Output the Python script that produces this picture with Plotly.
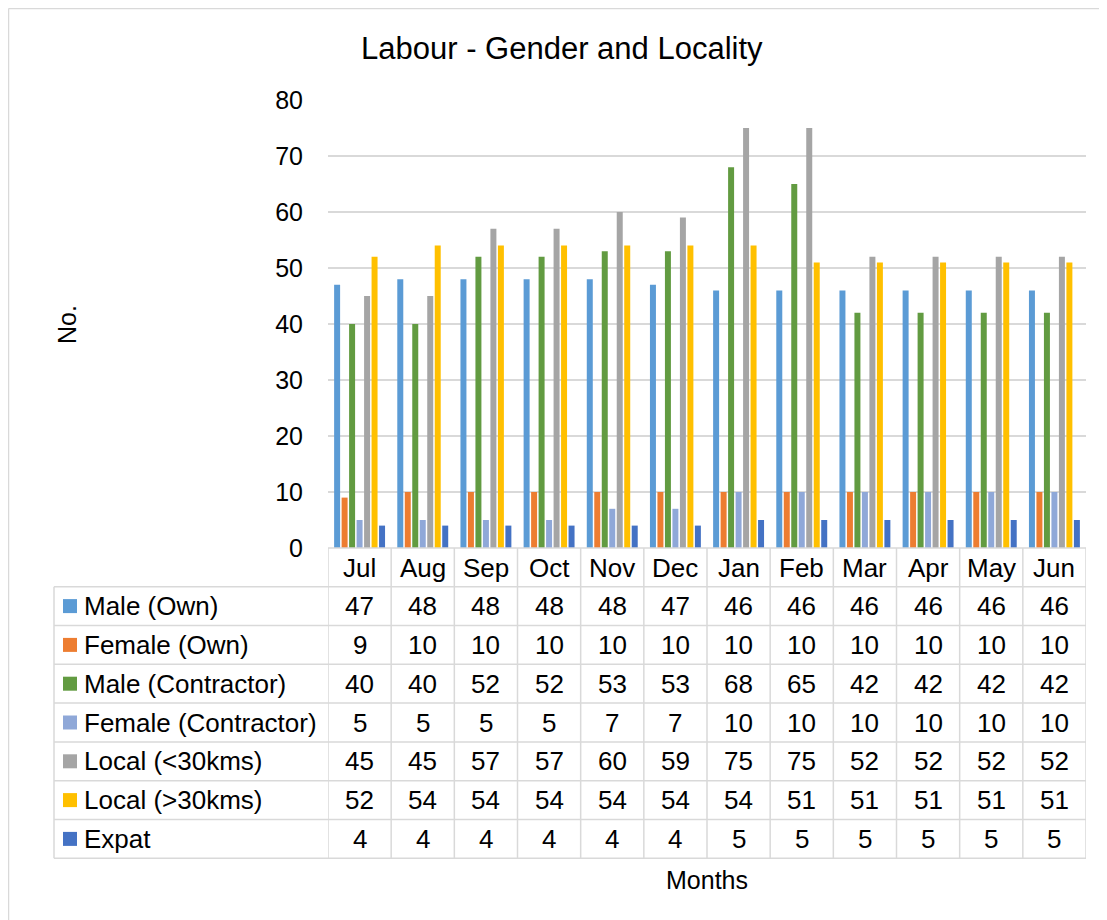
import plotly.graph_objects as go

months = ["Jul", "Aug", "Sep", "Oct", "Nov", "Dec", "Jan", "Feb", "Mar", "Apr", "May", "Jun"]
male_own = [47, 48, 48, 48, 48, 47, 46, 46, 46, 46, 46, 46]
female_own = [9, 10, 10, 10, 10, 10, 10, 10, 10, 10, 10, 10]
male_contractor = [40, 40, 52, 52, 53, 53, 68, 65, 42, 42, 42, 42]
female_contractor = [5, 5, 5, 5, 7, 7, 10, 10, 10, 10, 10, 10]
local_lt30 = [45, 45, 57, 57, 60, 59, 75, 75, 52, 52, 52, 52]
local_gt30 = [52, 54, 54, 54, 54, 54, 54, 51, 51, 51, 51, 51]
expat = [4, 4, 4, 4, 4, 4, 5, 5, 5, 5, 5, 5]

series_names = ["Male (Own)", "Female (Own)", "Male (Contractor)", "Female (Contractor)",
                "Local (<30kms)", "Local (>30kms)", "Expat"]
series_values = [male_own, female_own, male_contractor, female_contractor,
                 local_lt30, local_gt30, expat]
colors = ["#5B9BD5", "#ED7D31", "#629B41", "#8FA8D8", "#A5A5A5", "#FFC000", "#4472C4"]

# page body has an 8px margin, so the figure is drawn 8px smaller and everything is
# expressed in window pixel coordinates below
OFF = 8
W, H = 1107 - OFF, 920 - OFF
L, R, T, B = 328, 1086, 100, 548  # plot area in window coordinates
FONT = "Liberation Sans, Arial, sans-serif"
GRID = "#D9D9D9"
FS = 26


def px(X):
    return (X - L) / (R - L)


def py(Y):
    return (B - Y) / (B - T)


fig = go.Figure()
for name, vals, col in zip(series_names, series_values, colors):
    fig.add_trace(go.Bar(x=list(range(len(months))), y=vals, name=name,
                         marker=dict(color=col, line=dict(width=0))))

shapes = []
annotations = []

row_h = 38.8
header_bottom = 586.7
row_tops = [header_bottom + i * row_h for i in range(len(series_names) + 1)]
tbl_left = 54

shapes.append(dict(type="line", xref="paper", yref="paper", x0=px(L), x1=px(R),
                   y0=py(B), y1=py(B), line=dict(color=GRID, width=1.5)))
for yy in row_tops:
    shapes.append(dict(type="line", xref="paper", yref="paper", x0=px(tbl_left), x1=px(R),
                       y0=py(yy), y1=py(yy), line=dict(color=GRID, width=1.5)))
shapes.append(dict(type="line", xref="paper", yref="paper", x0=px(tbl_left), x1=px(tbl_left),
                   y0=py(row_tops[0]), y1=py(row_tops[-1]), line=dict(color=GRID, width=1.5)))
for k in range(len(months) + 1):
    shapes.append(dict(type="line", xref="x", yref="paper", x0=k - 0.5, x1=k - 0.5,
                       y0=py(B), y1=py(row_tops[-1]), line=dict(color=GRID, width=1.5)))


def txt(x, y, text, xref="paper", size=FS, xanchor="center", angle=0):
    return dict(x=x, y=y, xref=xref, yref="paper", text=text, showarrow=False,
                xanchor=xanchor, yanchor="middle", textangle=angle,
                font=dict(size=size, color="#000000", family=FONT))


for i, m in enumerate(months):
    annotations.append(txt(i, py((B + header_bottom) / 2 + 1), m, xref="x"))

for r, (name, vals, col) in enumerate(zip(series_names, series_values, colors)):
    yc = row_tops[r] + row_h / 2
    shapes.append(dict(type="rect", xref="paper", yref="paper",
                       x0=px(63), x1=px(77), y0=py(yc - 7), y1=py(yc + 7),
                       fillcolor=col, line=dict(width=0)))
    annotations.append(txt(px(82), py(yc), name, xanchor="left"))
    for i, v in enumerate(vals):
        annotations.append(txt(i, py(yc), str(v), xref="x"))

annotations.append(txt(px(561.5), py(49), "Labour - Gender and Locality", size=31))
annotations.append(txt(px(67), py(325), "No.", size=25, angle=-90))
annotations.append(txt(px(707), py(880), "Months", size=25))

# outer frame (top and left edges visible)
shapes.append(dict(type="line", xref="paper", yref="paper", x0=px(8.5), x1=px(1120),
                   y0=py(8.5), y1=py(8.5), line=dict(color="#D9D9D9", width=1.5)))
shapes.append(dict(type="line", xref="paper", yref="paper", x0=px(8.5), x1=px(8.5),
                   y0=py(8.5), y1=py(930), line=dict(color="#D9D9D9", width=1.5)))

fig.update_layout(
    width=W, height=H,
    margin=dict(l=L - OFF, r=W - (R - OFF), t=T - OFF, b=H - (B - OFF), pad=0),
    paper_bgcolor="white", plot_bgcolor="white",
    barmode="group", bargap=0.17, bargroupgap=0.2,
    showlegend=False,
    font=dict(family=FONT, color="#000000"),
    xaxis=dict(range=[-0.5, len(months) - 0.5], showticklabels=False, showgrid=False,
               zeroline=False, ticks="", showline=False, fixedrange=True),
    yaxis=dict(range=[0, 80], dtick=10, showgrid=True, gridcolor=GRID, gridwidth=1.5,
               zeroline=False, showline=False, ticks="", ticklabelstandoff=24,
               tickfont=dict(size=25, color="#000000", family=FONT)),
    shapes=shapes,
    annotations=annotations,
)

fig.write_html("out.html")
